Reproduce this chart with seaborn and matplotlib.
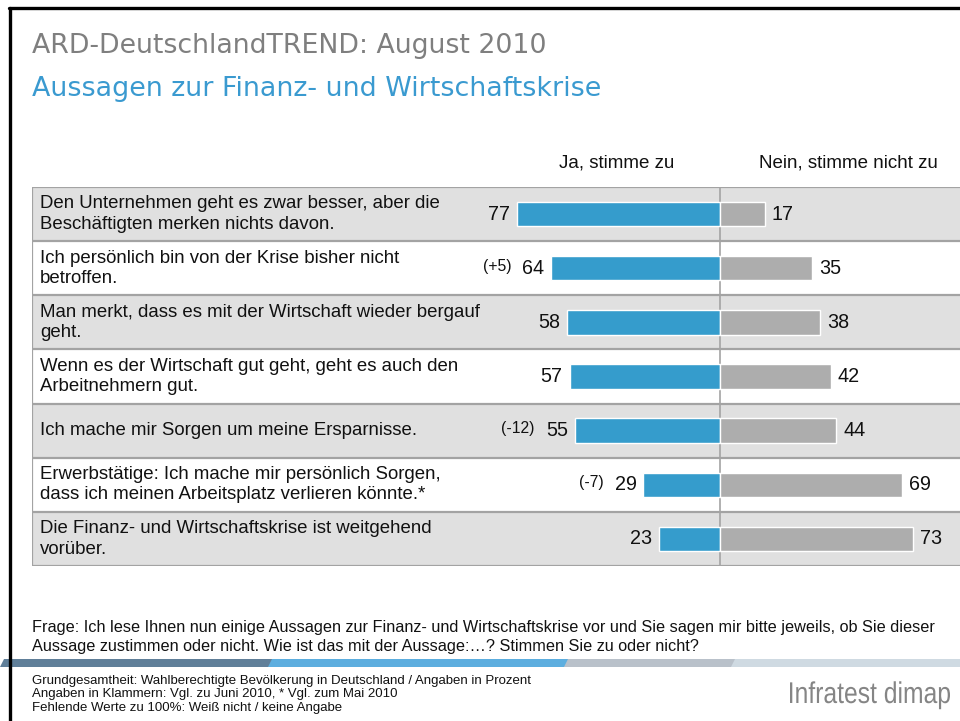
import numpy as np
import pandas as pd
import seaborn as sns
import matplotlib
matplotlib.use('Agg')
import matplotlib.pyplot as plt
from matplotlib.lines import Line2D
from matplotlib.patches import Polygon, PathPatch
from matplotlib.textpath import TextPath
from matplotlib.font_manager import FontProperties
from matplotlib.transforms import Affine2D

statements = [
    "Den Unternehmen geht es zwar besser, aber die\nBeschäftigten merken nichts davon.",
    "Ich persönlich bin von der Krise bisher nicht\nbetroffen.",
    "Man merkt, dass es mit der Wirtschaft wieder bergauf\ngeht.",
    "Wenn es der Wirtschaft gut geht, geht es auch den\nArbeitnehmern gut.",
    "Ich mache mir Sorgen um meine Ersparnisse.",
    "Erwerbstätige: Ich mache mir persönlich Sorgen,\ndass ich meinen Arbeitsplatz verlieren könnte.*",
    "Die Finanz- und Wirtschaftskrise ist weitgehend\nvorüber.",
]
ja = [77, 64, 58, 57, 55, 29, 23]
nein = [17, 35, 38, 42, 44, 69, 73]
changes = ["", "(+5)", "", "", "(-12)", "(-7)", ""]

BLUE = "#359CCC"
GREY = "#ADADAD"
SHADE = "#E0E0E0"
LINE = "#A3A3A3"

sns.set_style("white")
plt.rcParams['font.family'] = ['Liberation Sans', 'DejaVu Sans']

W, H = 960, 721
fig = plt.figure(figsize=(W / 100, H / 100), dpi=100)


def fx(x):
    return x / W


def fy(y):
    return 1 - y / H


# table area in pixels
L, R, T, B = 32, 960, 187, 566
ax = fig.add_axes([fx(L), fy(B), fx(R - L), fy(T) - fy(B)])

df = pd.DataFrame({"s": statements, "ja": ja, "nein": nein})
df["ja_neg"] = -df["ja"]

sns.barplot(data=df, y="s", x="ja_neg", orient="h", color=BLUE, width=0.45,
            edgecolor="white", linewidth=1, saturation=1, ax=ax, zorder=3)
sns.barplot(data=df, y="s", x="nein", orient="h", color=GREY, width=0.45,
            edgecolor="white", linewidth=1, saturation=1, ax=ax, zorder=3)

scale = 2.64  # px per percent
ax.set_xlim((L - 720) / scale, (R - 720) / scale)
ax.set_ylim(6.5, -0.5)
ax.set_xticks([])
ax.set_yticks([])
ax.set_xlabel("")
ax.set_ylabel("")
for sp in ax.spines.values():
    sp.set_visible(False)

n = len(statements)
for i in range(n):
    if i % 2 == 0:
        ax.axhspan(i - 0.5, i + 0.5, color=SHADE, zorder=0, lw=0)
for i in range(n + 1):
    ax.axhline(i - 0.5, color=LINE, lw=1.6, zorder=1)
ax.axvline(0, color=LINE, lw=1.2, zorder=2)
ax.plot([0, 0], [0, 1], transform=ax.transAxes, color=LINE, lw=1.6, zorder=1)

ytr = ax.get_yaxis_transform()
for i, s in enumerate(statements):
    ax.text(8 / (R - L), i, s, transform=ytr, ha="left", va="center",
            fontsize=13.4, linespacing=1.25, color="#111111", zorder=4)
    ax.annotate(str(ja[i]), (-ja[i], i), xytext=(-7, 0), textcoords="offset pixels",
                ha="right", va="center", fontsize=14.2, color="#111111", zorder=4)
    ax.annotate(str(nein[i]), (nein[i], i), xytext=(7, 0), textcoords="offset pixels",
                ha="left", va="center", fontsize=14.2, color="#111111", zorder=4)
    if changes[i]:
        ax.annotate(changes[i], (-ja[i], i), xytext=(-40, 2), textcoords="offset pixels",
                    ha="right", va="center", fontsize=11.3, color="#111111", zorder=4)

# headers
fig.text(fx(617), fy(163), "Ja, stimme zu", ha="center", va="center", fontsize=13.5, color="#111111")
fig.text(fx(848), fy(163), "Nein, stimme nicht zu", ha="center", va="center", fontsize=13.5, color="#111111")

fig.text(fx(32), fy(46), "ARD-DeutschlandTREND: August 2010", ha="left", va="center",
         fontsize=19.3, color="#7F7F7F", family=['DejaVu Sans'])
fig.text(fx(32), fy(89), "Aussagen zur Finanz- und Wirtschaftskrise", ha="left", va="center",
         fontsize=19.4, color="#3A9AD0", family=['DejaVu Sans'])

fig.text(fx(32), fy(637),
         "Frage: Ich lese Ihnen nun einige Aussagen zur Finanz- und Wirtschaftskrise vor und Sie sagen mir bitte jeweils, ob Sie dieser\n"
         "Aussage zustimmen oder nicht. Wie ist das mit der Aussage:\u2026? Stimmen Sie zu oder nicht?",
         ha="left", va="center", fontsize=11.7, linespacing=1.4, color="#111111")

fig.text(fx(32), fy(694.5),
         "Grundgesamtheit: Wahlberechtigte Bevölkerung in Deutschland / Angaben in Prozent\n"
         "Angaben in Klammern: Vgl. zu Juni 2010, * Vgl. zum Mai 2010\n"
         "Fehlende Werte zu 100%: Weiß nicht / keine Angabe",
         ha="left", va="center", fontsize=9.5, linespacing=1.12, color="#111111")

# logo, drawn narrow
tp = TextPath((0, 0), "Infratest dimap", size=30, prop=FontProperties(family="Liberation Sans"))
ext = tp.get_extents()
sx = 160 / ext.width
logo_tr = Affine2D().translate(-ext.x0, 0).scale(sx, 1.0).translate(790, H - 703)
fig.add_artist(PathPatch(tp, transform=logo_tr, color="#858585", lw=0))

# footer stripe
stripe = [(0, 272, "#607F99"), (268, 568, "#5DAEDF"), (564, 735, "#B9C1CA"), (731, 960, "#CFDAE2")]
for x0, x1, c in stripe:
    poly = Polygon([(fx(x0), fy(667)), (fx(x0 + 4), fy(659)), (fx(x1 + 4), fy(659)), (fx(x1), fy(667))],
                   closed=True, transform=fig.transFigure, color=c, lw=0)
    fig.add_artist(poly)

# frame
fig.add_artist(Line2D([fx(9), 1], [fy(8), fy(8)], transform=fig.transFigure, color="black", lw=2.4))
fig.add_artist(Line2D([fx(10), fx(10)], [fy(8), 0], transform=fig.transFigure, color="black", lw=2.4))

fig.savefig("out.png", dpi=100)
